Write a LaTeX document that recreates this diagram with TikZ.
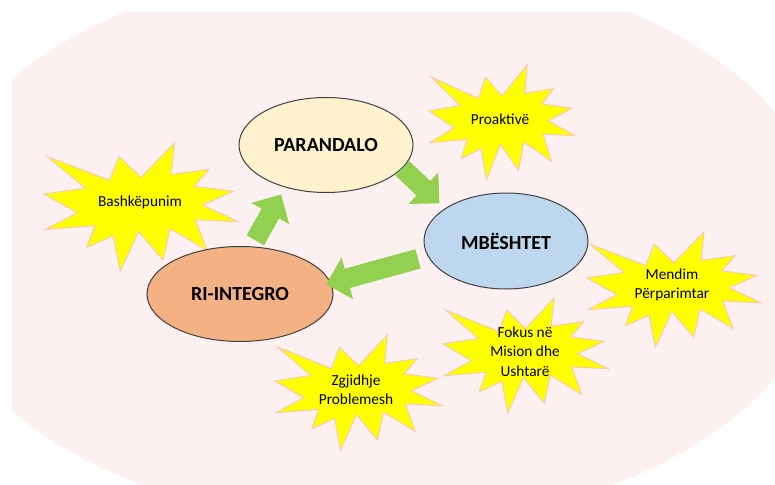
\documentclass[tikz,border=0pt]{standalone}
\usepackage{fontspec}
\setmainfont{Carlito}
\usetikzlibrary{shapes.geometric}
\usetikzlibrary{arrows.meta}

\definecolor{bgpink}{RGB}{253,240,241}
\definecolor{burstfill}{RGB}{255,255,0}
\definecolor{burstline}{RGB}{248,203,173}
\definecolor{ringline}{RGB}{64,64,64}
\definecolor{paraYellow}{RGB}{255,242,204}
\definecolor{mbBlue}{RGB}{189,215,238}
\definecolor{riOrange}{RGB}{244,177,131}
\definecolor{flowgreen}{RGB}{146,208,80}

\tikzset{
	burst/.pic={
		\filldraw[fill=burstfill, draw=burstline, line width=0.75pt]
			(108,58) -- (145.22,0) -- (141.55,53.25) -- (183.8,44.57) -- (167.02,73.15)
			-- (210.97,81.37) -- (176.07,104.75) -- (216,132.9) -- (168.37,129.42)
			-- (181.45,180.95) -- (140.2,144.57) -- (132.47,197.37) -- (105.32,149.35)
			-- (84.85,216) -- (77.15,156.27) -- (47.62,176.17) -- (56.67,139.37)
			-- (1.35,145.87) -- (37.22,117.75) -- (0,86.15) -- (46.27,76.17)
			-- (3.7,22.95) -- (73.12,63.2) -- (83.52,22.95) -- cycle;
	},
	phase/.style={ellipse, draw=ringline, line width=0.75pt, inner sep=0pt,
		font=\fontsize{15}{18}\selectfont\bfseries},
	trait/.style={align=center, inner sep=0pt, font=\fontsize{11.5}{14.5}\selectfont},
	flow/.style={draw=flowgreen, line width=15pt, -{Triangle[length=16.5pt, width=31.5pt]}}
}

\begin{document}
\begin{tikzpicture}[x=0.75pt, y=-0.75pt]
	\useasboundingbox (0,0) rectangle (775,485);

	% draw background
	\begin{scope}
		\clip (12,13) rectangle (775,485);
		\fill[bgpink] (377,245) ellipse [x radius=452, y radius=281];
	\end{scope}

	% draw bursts
	\pic[xscale=194/216, yscale=128/216] at (44,143) {burst};
	\pic[xscale=146/216, yscale=115/216] at (429,65) {burst};
	\pic[xscale=174/216, yscale=115/216] at (587,232) {burst};
	\pic[xscale=165/216, yscale=115/216] at (443,298) {burst};
	\pic[xscale=167/216, yscale=115/216] at (275,335) {burst};

	% draw burst texts
	\node[trait] (bashke) at (140,202) {Bashkëpunim};
	\node[trait] (proakt) at (500,119) {Proaktivë};
	\node[trait] (mendim) at (672,285) {Mendim\\Përparimtar};
	\node[trait] (fokus) at (525,351.5) {Fokus në\\Mision dhe\\Ushtarë};
	\node[trait] (zgjidh) at (356,389.5) {Zgjidhje\\Problemesh};

	% draw phases
	\node[phase, fill=paraYellow, minimum width=130.5pt, minimum height=71.25pt] (parandalo) at (326,145) {PARANDALO};
	\node[phase, fill=mbBlue, minimum width=123pt, minimum height=72pt] (mbeshtet) at (506,241) {MBËSHTET};
	\node[phase, fill=riOrange, minimum width=139.5pt, minimum height=71.25pt] (rintegro) at (240,294) {RI-INTEGRO};

	% draw cycle arrows
	\draw[flow, shorten >=5.6pt] (parandalo.-17) -- (mbeshtet.152);
	\draw[flow, shorten <=5.25pt, shorten >=6pt] (rintegro.76) -- (parandalo.226);
	\draw[flow, shorten <=7.5pt, shorten >=-3.75pt] (mbeshtet.191) -- (rintegro.7);
\end{tikzpicture}
\end{document}
